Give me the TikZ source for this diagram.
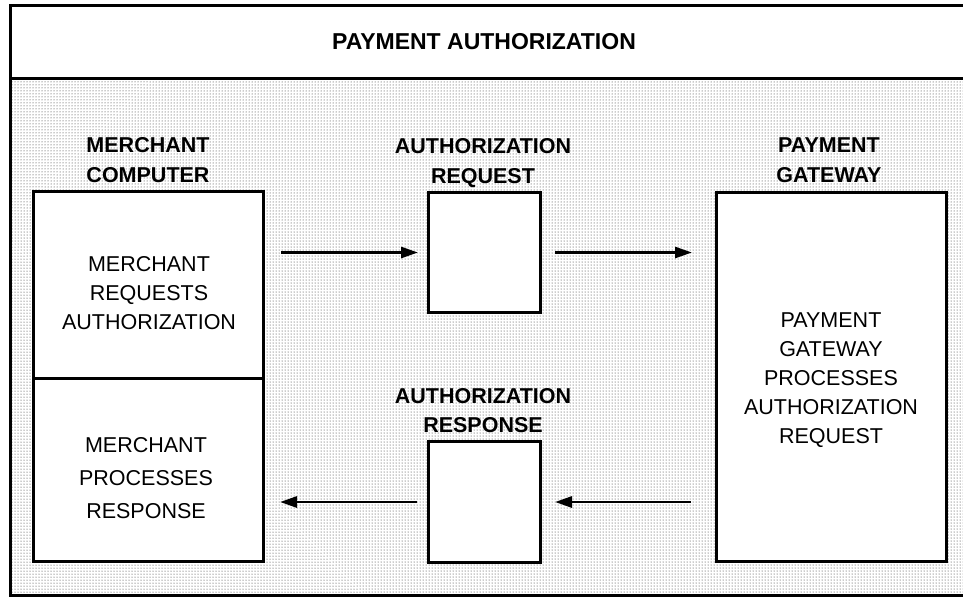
\documentclass[tikz,border=0pt]{standalone}
\usepackage{fontspec}
\setmainfont{Liberation Sans}
\usetikzlibrary{arrows.meta,patterns}
\begin{document}
\begin{tikzpicture}[x=1pt,y=-1pt,
  box/.style={draw, line width=3pt, fill=white, inner sep=0pt, anchor=north west},
  body/.style={align=center, inner sep=0pt, anchor=north, font=\fontsize{21.5}{29}\selectfont},
  lab/.style={align=center, inner sep=0pt, anchor=north, font=\fontsize{21.5}{30}\selectfont\bfseries},
  arr/.style={line width=2.8pt, -{Triangle[length=17pt,width=11pt]}}
]
\useasboundingbox (0,0) rectangle (963,598);
\fill[white] (0,0) rectangle (963,598);
\fill[pattern=dots, pattern color=black!85] (10,78) rectangle (980,595);
\draw[line width=3pt] (10,5) rectangle (980,595);
\draw[line width=3pt] (10,78) -- (980,78);
\node[lab, font=\fontsize{23}{28}\selectfont\bfseries] (title) at (484,33) {PAYMENT AUTHORIZATION};
% boxes
\node[box, minimum width=230pt, minimum height=187pt] (mtop) at (32,190) {};
\node[box, minimum width=230pt, minimum height=183pt] (mbot) at (32,377) {};
\node[box, minimum width=112pt, minimum height=120pt] (req) at (427,191) {};
\node[box, minimum width=112pt, minimum height=121pt] (resp) at (427,440) {};
\node[box, minimum width=230pt, minimum height=369pt] (gw) at (715,191) {};
% texts
\node[body] (mtoptext) at (149,256) {MERCHANT\\REQUESTS\\AUTHORIZATION};
\node[body, font=\fontsize{21.5}{33}\selectfont] (mbottext) at (146,437) {MERCHANT\\PROCESSES\\RESPONSE};
\node[body] (gwtext) at (831,312) {PAYMENT\\GATEWAY\\PROCESSES\\AUTHORIZATION\\REQUEST};
% labels
\node[lab] (mlab) at (148,137) {MERCHANT\\COMPUTER};
\node[lab] (reqlab) at (483,138) {AUTHORIZATION\\REQUEST};
\node[lab, font=\fontsize{21.5}{29}\selectfont\bfseries] (resplab) at (483,388) {AUTHORIZATION\\RESPONSE};
\node[lab] (gwlab) at (829,138) {PAYMENT\\GATEWAY};
% arrows
\draw[arr, shorten <=16pt, shorten >=9pt] (req.west -| mtop.east) -- (req.west);
\draw[arr, shorten <=13pt, shorten >=23pt] (req.east) -- (req.east -| gw.west);
\draw[arr, shorten <=24pt, shorten >=13pt] (resp.east -| gw.west) -- (resp.east);
\draw[arr, shorten <=10pt, shorten >=15pt] (resp.west) -- (resp.west -| mtop.east);
\end{tikzpicture}
\end{document}
